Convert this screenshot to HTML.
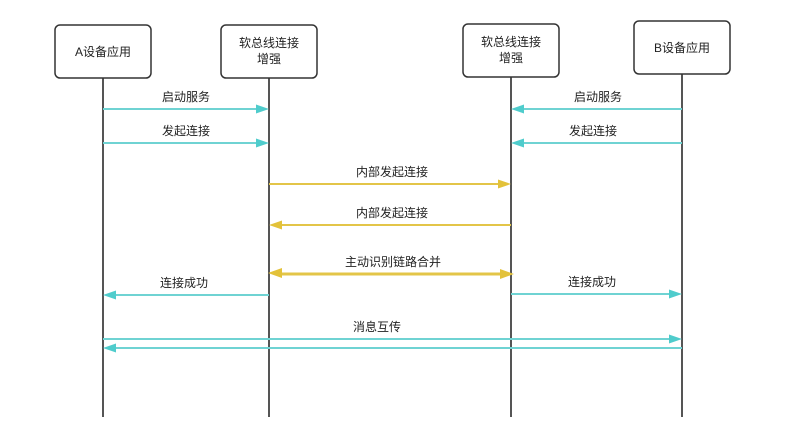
<!DOCTYPE html>
<html><head><meta charset="utf-8"><style>
html,body{margin:0;padding:0;background:#fff;}
svg text{font-family:"Liberation Sans","Noto Sans CJK SC",sans-serif;font-size:12px;fill:#222;}
</style></head><body>
<svg width="798" height="417" viewBox="0 0 798 417" xmlns="http://www.w3.org/2000/svg">
<g stroke="#555" stroke-width="2">
<line x1="103" y1="78" x2="103" y2="417"/>
<line x1="269" y1="78" x2="269" y2="417"/>
<line x1="511" y1="77" x2="511" y2="417"/>
<line x1="682" y1="74" x2="682" y2="417"/>
</g>
<g fill="#fff" stroke="#333" stroke-width="1.5">
<rect x="55" y="25" width="96" height="53" rx="5"/>
<rect x="221" y="25" width="96" height="53" rx="5"/>
<rect x="463" y="24" width="96" height="53" rx="5"/>
<rect x="634" y="21" width="96" height="53" rx="5"/>
</g>
<g text-anchor="middle" style="font-size:13px">
<text x="103" y="56">A设备应用</text>
<text x="269" y="47">软总线连接</text><text x="269" y="63">增强</text>
<text x="511" y="46">软总线连接</text><text x="511" y="62">增强</text>
<text x="682" y="52">B设备应用</text>
</g>
<g stroke-width="2">
<g stroke="#6fd3d3">
<line x1="103" y1="109" x2="258" y2="109"/>
<line x1="103" y1="143" x2="258" y2="143"/>
<line x1="682" y1="109" x2="522" y2="109"/>
<line x1="682" y1="143" x2="522" y2="143"/>
<line x1="269" y1="295" x2="114" y2="295"/>
<line x1="511" y1="294" x2="671" y2="294"/>
<line x1="103" y1="339" x2="671" y2="339"/>
<line x1="682" y1="348" x2="114" y2="348"/>
</g>
<g stroke="#e3c548">
<line x1="269" y1="184" x2="500" y2="184"/>
<line x1="511" y1="225" x2="280" y2="225"/>
<line x1="280" y1="274" x2="502" y2="274" stroke-width="3"/>
</g>
</g>
<g fill="#4fcccc">
<polygon points="269,109 256,104.5 256,113.5"/>
<polygon points="269,143 256,138.5 256,147.5"/>
<polygon points="511,109 524,104.5 524,113.5"/>
<polygon points="511,143 524,138.5 524,147.5"/>
<polygon points="103,295 116,290.5 116,299.5"/>
<polygon points="682,294 669,289.5 669,298.5"/>
<polygon points="682,339 669,334.5 669,343.5"/>
<polygon points="103,348 116,343.5 116,352.5"/>
</g>
<g fill="#e3c23a">
<polygon points="511,184 498,179.5 498,188.5"/>
<polygon points="269,225 282,220.5 282,229.5"/>
<polygon points="268,273 282,268 282,278"/>
<polygon points="514,274 500,269 500,279"/>
</g>
<g text-anchor="middle">
<text x="186" y="101">启动服务</text>
<text x="186" y="135">发起连接</text>
<text x="598" y="101">启动服务</text>
<text x="593" y="135">发起连接</text>
<text x="392" y="176">内部发起连接</text>
<text x="392" y="217">内部发起连接</text>
<text x="393" y="266">主动识别链路合并</text>
<text x="184" y="287">连接成功</text>
<text x="592" y="286">连接成功</text>
<text x="377" y="331">消息互传</text>
</g>
</svg>
</body></html>
